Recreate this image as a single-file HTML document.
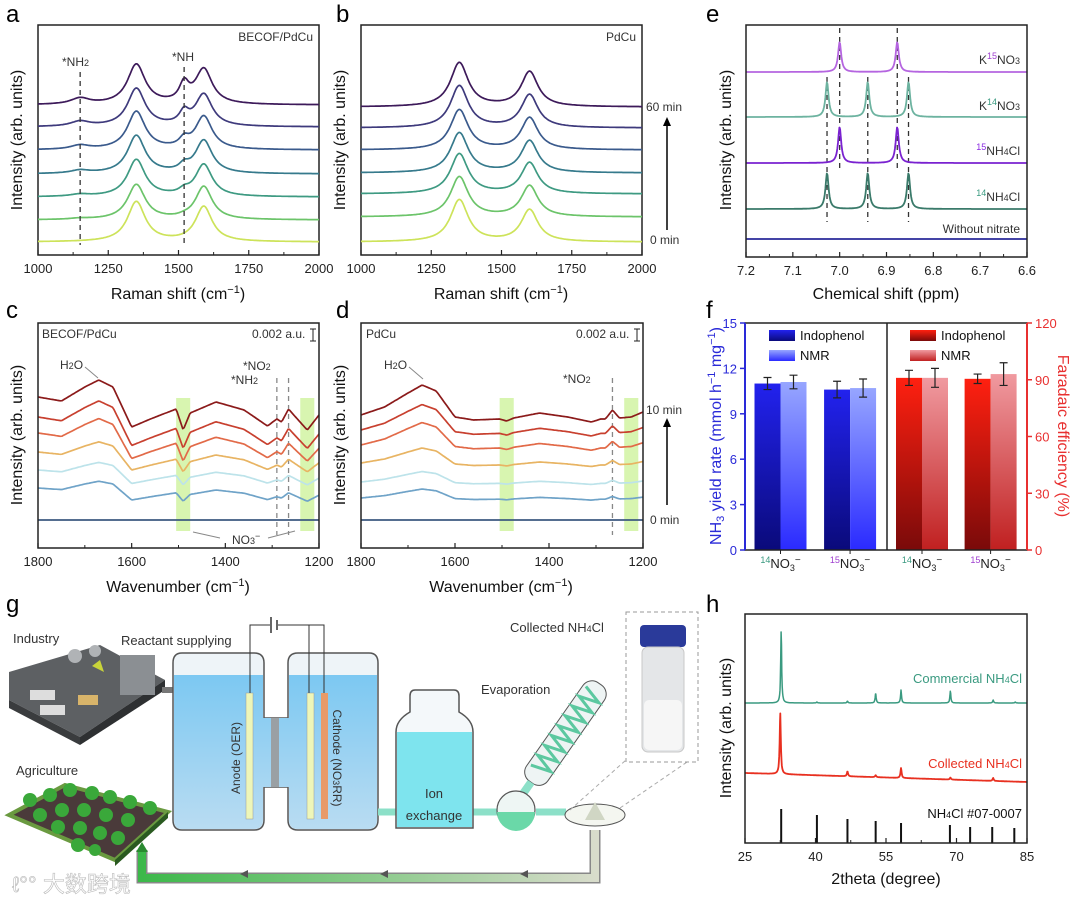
<!DOCTYPE html>
<html><head><meta charset="utf-8"><style>
body{margin:0;background:#fff}
svg{display:block;font-family:"Liberation Sans","Noto Sans CJK SC",sans-serif}
.tk{font-size:13px;fill:#222}
.at{font-size:16px;fill:#111}
.pl{font-size:24px;fill:#000}
.an{font-size:12px;fill:#333}
</style></head><body>
<svg id="fig" width="1080" height="898" viewBox="0 0 1080 898">
<defs>
<linearGradient id="gBlue" x1="0" y1="1" x2="0" y2="0"><stop offset="0" stop-color="#0a0a7a"/><stop offset="1" stop-color="#2222ee"/></linearGradient>
<linearGradient id="gBlueL" x1="0" y1="1" x2="0" y2="0"><stop offset="0" stop-color="#2a2aff"/><stop offset="1" stop-color="#97a6ff"/></linearGradient>
<linearGradient id="gRed" x1="0" y1="1" x2="0" y2="0"><stop offset="0" stop-color="#7a0a0a"/><stop offset="1" stop-color="#ff2010"/></linearGradient>
<linearGradient id="gRedL" x1="0" y1="1" x2="0" y2="0"><stop offset="0" stop-color="#c02020"/><stop offset="1" stop-color="#f09aa0"/></linearGradient>
<linearGradient id="gPipe" x1="0" y1="0" x2="1" y2="0"><stop offset="0" stop-color="#3cb84a"/><stop offset="1" stop-color="#d8dccb"/></linearGradient>
<linearGradient id="gWater" x1="0" y1="0" x2="0" y2="1"><stop offset="0" stop-color="#7cc8f2"/><stop offset="1" stop-color="#b9dcf2"/></linearGradient>
</defs>
<text class="pl" x="6" y="22">a</text>
<text class="pl" x="336" y="22">b</text>
<text class="pl" x="706" y="22">e</text>
<text class="pl" x="6" y="318">c</text>
<text class="pl" x="336" y="318">d</text>
<text class="pl" x="706" y="318">f</text>
<text class="pl" x="6" y="612">g</text>
<text class="pl" x="706" y="612">h</text>

<text class="at" x="178" y="299" text-anchor="middle">Raman shift (cm<tspan dy="-6" font-size="11">−1</tspan><tspan dy="6">)</tspan></text>
<text class="at" x="501" y="299" text-anchor="middle">Raman shift (cm<tspan dy="-6" font-size="11">−1</tspan><tspan dy="6">)</tspan></text>
<text class="at" x="886" y="299" text-anchor="middle">Chemical shift (ppm)</text>
<text class="at" x="178" y="592" text-anchor="middle">Wavenumber (cm<tspan dy="-6" font-size="11">−1</tspan><tspan dy="6">)</tspan></text>
<text class="at" x="501" y="592" text-anchor="middle">Wavenumber (cm<tspan dy="-6" font-size="11">−1</tspan><tspan dy="6">)</tspan></text>
<text class="at" x="886" y="884" text-anchor="middle">2theta (degree)</text>
<text class="at" transform="translate(22,140) rotate(-90)" text-anchor="middle">Intensity (arb. units)</text>
<text class="at" transform="translate(345,140) rotate(-90)" text-anchor="middle">Intensity (arb. units)</text>
<text class="at" transform="translate(731,140) rotate(-90)" text-anchor="middle">Intensity (arb. units)</text>
<text class="at" transform="translate(22,435) rotate(-90)" text-anchor="middle">Intensity (arb. units)</text>
<text class="at" transform="translate(345,435) rotate(-90)" text-anchor="middle">Intensity (arb. units)</text>
<text class="at" transform="translate(731,728) rotate(-90)" text-anchor="middle">Intensity (arb. units)</text>
<text class="at" transform="translate(721,436) rotate(-90)" text-anchor="middle" style="fill:#2a2ad8">NH<tspan font-size="11" dy="3">3</tspan><tspan dy="-3"> yield rate (mmol h</tspan><tspan font-size="11" dy="-6">−1</tspan><tspan dy="6"> mg</tspan><tspan font-size="11" dy="-6">−1</tspan><tspan dy="6">)</tspan></text>
<text class="at" transform="translate(1058,436) rotate(90)" text-anchor="middle" style="fill:#e83030">Faradaic efficiency (%)</text>

<text class="an" x="313" y="41" text-anchor="end">BECOF/PdCu</text>
<text class="an" x="62" y="66">*NH<tspan font-size="9">2</tspan></text>
<text class="an" x="172" y="61">*NH</text>
<text class="an" x="636" y="41" text-anchor="end">PdCu</text>
<text class="an" x="646" y="111">60 min</text>
<text class="an" x="650" y="244">0 min</text>
<line x1="667" y1="230" x2="667" y2="124" stroke="#000" stroke-width="1.5"/>
<polygon points="663,126 671,126 667,117" fill="#000"/>
<text class="an" x="42" y="338">BECOF/PdCu</text>
<text class="an" x="252" y="338">0.002 a.u.</text>
<path d="M310,329 h6 M313,329 v12 M310,341 h6" stroke="#222" fill="none"/>
<text class="an" x="60" y="369">H<tspan font-size="9">2</tspan>O</text>
<line x1="85" y1="367" x2="98" y2="378" stroke="#888"/>
<text class="an" x="243" y="370">*NO<tspan font-size="9">2</tspan></text>
<text class="an" x="231" y="384">*NH<tspan font-size="9">2</tspan></text>
<text class="an" x="232" y="544">NO<tspan font-size="9">3</tspan><tspan dy="-5" font-size="9">−</tspan></text>
<path d="M220,538 L193,532 M268,538 L295,531" stroke="#888" fill="none"/>
<text class="an" x="366" y="338">PdCu</text>
<text class="an" x="576" y="338">0.002 a.u.</text>
<path d="M634,329 h6 M637,329 v12 M634,341 h6" stroke="#222" fill="none"/>
<text class="an" x="384" y="369">H<tspan font-size="9">2</tspan>O</text>
<line x1="409" y1="367" x2="423" y2="379" stroke="#888"/>
<text class="an" x="563" y="383">*NO<tspan font-size="9">2</tspan></text>
<text class="an" x="646" y="414">10 min</text>
<text class="an" x="650" y="524">0 min</text>
<line x1="667" y1="505" x2="667" y2="425" stroke="#000" stroke-width="1.5"/>
<polygon points="663,427 671,427 667,418" fill="#000"/>
<text class="an" x="1020" y="64" text-anchor="end">K<tspan font-size="9" dy="-5" style="fill:#a040d0">15</tspan><tspan dy="5">NO</tspan><tspan font-size="9">3</tspan></text>
<text class="an" x="1020" y="110" text-anchor="end">K<tspan font-size="9" dy="-5" style="fill:#3a9a80">14</tspan><tspan dy="5">NO</tspan><tspan font-size="9">3</tspan></text>
<text class="an" x="1020" y="155" text-anchor="end"><tspan font-size="9" dy="-5" style="fill:#8a2be2">15</tspan><tspan dy="5">NH</tspan><tspan font-size="9">4</tspan>Cl</text>
<text class="an" x="1020" y="201" text-anchor="end"><tspan font-size="9" dy="-5" style="fill:#3a9a80">14</tspan><tspan dy="5">NH</tspan><tspan font-size="9">4</tspan>Cl</text>
<text class="an" x="1020" y="233" text-anchor="end">Without nitrate</text>
<text class="an" x="1022" y="683" text-anchor="end" style="fill:#3a9a80;font-size:13px">Commercial NH<tspan font-size="9">4</tspan>Cl</text>
<text class="an" x="1022" y="768" text-anchor="end" style="fill:#e83020;font-size:13px">Collected NH<tspan font-size="9">4</tspan>Cl</text>
<text class="an" x="1022" y="818" text-anchor="end" style="fill:#111;font-size:13px">NH<tspan font-size="9">4</tspan>Cl #07-0007</text>

<g id="panelG">
 <g>
  <polygon points="9,672 100,645 165,680 80,737 9,700" fill="#5d6063"/>
  <polygon points="9,700 80,737 80,745 9,708" fill="#3a3c3e"/>
  <polygon points="80,737 165,680 165,690 80,745" fill="#2e3032"/>
  <rect x="120" y="655" width="35" height="40" fill="#8b8f93"/>
  <rect x="30" y="690" width="25" height="10" fill="#ddd"/><rect x="40" y="705" width="25" height="10" fill="#ddd"/>
  <circle cx="75" cy="656" r="7" fill="#b0b3b6"/><circle cx="95" cy="651" r="6" fill="#b0b3b6"/>
  <rect x="78" y="695" width="20" height="10" fill="#d8b46a"/><polygon points="92,666 100,660 104,672" fill="#c8d33a"/>
 </g>
 <text class="an" x="13" y="643" style="font-size:13px">Industry</text>
 <text class="an" x="121" y="645" style="font-size:13px">Reactant supplying</text>
 <text class="an" x="16" y="775" style="font-size:13px">Agriculture</text>
 <g>
  <polygon points="9,815 65,785 168,812 115,860" fill="#4a3a3a" stroke="#6a9a40" stroke-width="4"/>
  <polygon points="115,860 168,812 168,818 115,866" fill="#2a5a20"/>
  <g fill="#3aa83a">
   <circle cx="30" cy="800" r="7"/><circle cx="50" cy="795" r="7"/><circle cx="70" cy="790" r="7"/><circle cx="92" cy="793" r="7"/><circle cx="110" cy="797" r="7"/><circle cx="130" cy="802" r="7"/><circle cx="150" cy="808" r="7"/>
   <circle cx="40" cy="815" r="7"/><circle cx="62" cy="810" r="7"/><circle cx="84" cy="810" r="7"/><circle cx="106" cy="815" r="7"/><circle cx="128" cy="820" r="7"/>
   <circle cx="58" cy="827" r="7"/><circle cx="80" cy="828" r="7"/><circle cx="100" cy="833" r="7"/><circle cx="118" cy="838" r="7"/>
   <circle cx="78" cy="845" r="7"/><circle cx="95" cy="850" r="6"/>
  </g>
 </g>
 <path d="M595,830 V878 H142 V850" fill="none" stroke="#888" stroke-width="11"/>
 <path d="M595,830 V878 H142 V850" fill="none" stroke="url(#gPipe)" stroke-width="8"/>
 <polygon points="136,852 148,852 142,842" fill="#2a8a30"/>
 <g fill="#555"><polygon points="240,874 248,870 248,878"/><polygon points="380,874 388,870 388,878"/><polygon points="520,874 528,870 528,878"/></g>
 <path d="M162,690 H175" stroke="#777" stroke-width="6"/>
 <path d="M182,653 H254 Q264,653 264,663 V718 H288 V663 Q288,653 298,653 H369 Q378,653 378,663 V820 Q378,830 368,830 H298 Q288,830 288,820 V787 H264 V820 Q264,830 254,830 H182 Q173,830 173,820 V663 Q173,653 182,653 Z" fill="#eef4f8" stroke="#555" stroke-width="1.5"/>
 <path d="M174,675 H263 V718 H289 V675 H377 V820 Q377,829 368,829 H298 Q289,829 289,820 V787 H263 V820 Q263,829 254,829 H182 Q174,829 174,820 Z" fill="url(#gWater)"/>
 <rect x="271" y="718" width="8" height="69" fill="#9aa0a4"/>
 <rect x="246" y="693" width="7" height="126" fill="#eef6b8" stroke="#999" stroke-width="0.5"/>
 <rect x="307" y="693" width="7" height="126" fill="#eef6b8" stroke="#999" stroke-width="0.5"/>
 <rect x="321" y="693" width="7" height="126" fill="#e89a68"/>
 <path d="M250,693 V625 H270 M278,625 H324 V693 M309,693 V625" fill="none" stroke="#333" stroke-width="1"/>
 <path d="M271,617 V633 M277,620 V630" stroke="#333" stroke-width="1.5"/>
 <text transform="translate(240,758) rotate(-90)" text-anchor="middle" class="an" style="font-size:12px">Anode (OER)</text>
 <text transform="translate(333,758) rotate(90)" text-anchor="middle" class="an" style="font-size:12px">Cathode (NO<tspan font-size="9">3</tspan>RR)</text>
 <path d="M378,812 H396 M473,812 H500 M536,812 H566" stroke="#8ce0c8" stroke-width="7"/>
 <path d="M415,690 H454 Q459,690 459,696 V712 Q473,720 473,732 V828 H396 V732 Q396,720 410,712 V696 Q410,690 415,690 Z" fill="#f4f8fa" stroke="#555" stroke-width="1.5"/>
 <rect x="397" y="732" width="75" height="95" fill="#7ee4ee"/>
 <text class="an" x="434" y="798" text-anchor="middle" style="font-size:13px">Ion</text>
 <text class="an" x="434" y="820" text-anchor="middle" style="font-size:13px">exchange</text>
 <g transform="rotate(35 562 738)">
  <rect x="549" y="672" width="26" height="120" rx="11" fill="#eef4f4" stroke="#555"/>
  <path d="M552,682 l20,6 l-20,6 l20,6 l-20,6 l20,6 l-20,6 l20,6 l-20,6 l20,6 l-20,6 l20,6 l-20,6 l20,6 l-20,6 l20,6 l-20,6" fill="none" stroke="#5cc8a0" stroke-width="3"/>
  <rect x="558" y="792" width="8" height="14" fill="#8ce0c8"/>
 </g>
 <circle cx="516" cy="810" r="19" fill="#eef6f4" stroke="#555" stroke-width="1.2"/>
 <path d="M497,812 A19,19 0 0 0 535,812 Z" fill="#6ad8a8"/>
 <text class="an" x="481" y="694" style="font-size:13px">Evaporation</text>
 <ellipse cx="595" cy="815" rx="30" ry="11" fill="#f4f6f0" stroke="#555"/>
 <polygon points="585,820 595,802 605,820" fill="#d0d6c4"/>
 <text class="an" x="510" y="632" style="font-size:13px">Collected NH<tspan font-size="9">4</tspan>Cl</text>
 <path d="M620,808 L690,760 M570,810 L626,760" stroke="#aaa" stroke-dasharray="4,3" fill="none"/>
 <rect x="626" y="612" width="72" height="150" fill="#fff" stroke="#999" stroke-dasharray="4,3"/>
 <rect x="640" y="625" width="46" height="22" rx="4" fill="#2a3a9a"/>
 <rect x="642" y="647" width="42" height="105" rx="6" fill="#e4e6e8" stroke="#c8c8c8"/>
 <rect x="644" y="700" width="38" height="50" rx="5" fill="#f6f6f6"/>
 <text x="12" y="892" style="font-size:22px;fill:#fff;stroke:#bbb;stroke-width:0.6">ℓ°° 大数跨境</text>
</g>
</svg>
<script>
const ramanATraceOffsets=[150,128,105,81,58,35,13];
const ramanAPeakCenters=[1150,1350,1520,1590];
const ramanAPeakWidths=[40,38,20,36];
const ramanAAmps=[[6,40,18,35],[5,38,12,32],[4,38,8,33],[3,38,6,33],[2,37,4,32],[1,35,1,33],[0,40,0,35]];
const ramanBTraceOffsets=[148,127,105,82,61,38,13];
const ramanBPeakCenters=[1350,1600];
const ramanBPeakWidths=[38,36];
const ramanBAmps=[[44,35],[42,33],[40,32],[40,32],[40,31],[40,31],[42,32]];
const ramanColors=['#3d1a5a','#3e3a7c','#3a5a8c','#367a8c','#3e9a82','#6cc46a','#cde35a'];

const irWavenumbers=[1800,1750,1700,1670,1640,1600,1560,1505,1490,1475,1420,1360,1310,1290,1280,1265,1250,1225,1200];
const irCTemplate=[0,-4,10,17,10,-30,-22,-12,-33,-16,-5,-13,-29,-22,-25,-12,-20,-33,-18];
const irCOffsets=[151,131,115,96,78,60,28];
const irCScales=[1,0.95,0.85,0.6,0.45,0.4,0];
const irDTemplate=[0,8,22,30,24,-2,-5,-4,-6,-3,2,-2,-7,-4,-4,5,-3,-2,3];
const irDOffsets=[133,118,103,85,66,50,28];
const irDScales=[1,0.85,0.75,0.5,0.35,0.3,0];
const irColors=['#8b1a1a','#c8402f','#e26a48','#e8b463','#bde3ea','#6fa3c8','#3d5a80'];

const nmrOffsets=[185,140,94,48,18];
const nmrPeaks=[[7.0,6.877],[7.027,6.94,6.853],[7.0,6.877],[7.027,6.94,6.853],[]];
const nmrHeights=[30,35,36,36,0];
const nmrColors=['#b565e0','#6db3a0','#7a22d0','#3a7a6a','#2a2a9a'];

const fCategories=['14NO3−','15NO3−'];
const yieldIndophenol=[11.0,10.6];
const yieldNMR=[11.1,10.7];
const yieldIndophenolErr=[0.4,0.55];
const yieldNMRErr=[0.45,0.6];
const feIndophenol=[91,90.5];
const feNMR=[91,93];
const feIndophenolErr=[4,2.5];
const feNMRErr=[5,6];
const fLeftTicks=[0,3,6,9,12,15];
const fRightTicks=[0,30,60,90,120];

const xrdCommercialPeaks=[32.7,40.3,46.8,52.8,58.2,68.7,77.8,82.5];
const xrdCommercialHeights=[73,1,2,10,13,12,3,1];
const xrdCollectedPeaks=[32.5,46.8,52.8,58.2,68.7,77.8];
const xrdCollectedHeights=[62,5,2,10,2,3];
const xrdCommercialOffset=140;
const xrdCollectedOffsetStart=70;
const xrdCollectedOffsetEnd=61;
const xrdRefPositions=[32.7,40.3,46.8,52.8,58.2,68.6,72.9,77.6,82.3];
const xrdRefHeights=[34,28,24,22,20,18,16,16,15];

const ramanTicks=[1000,1250,1500,1750,2000];
const irTicks=[1800,1600,1400,1200];
const nmrTicks=[7.2,7.1,7.0,6.9,6.8,6.7,6.6];
const xrdTicks=[25,40,55,70,85];

const NS='http://www.w3.org/2000/svg';
const svg=document.getElementById('fig');
function mk(tag,attrs,parent){const e=document.createElementNS(NS,tag);for(const k in attrs)e.setAttribute(k,attrs[k]);(parent||svg).appendChild(e);return e;}
function lin(d0,d1,r0,r1){return v=>r0+(v-d0)/(d1-d0)*(r1-r0);}
function lor(x,c,w){const t=(x-c)/w;return 1/(1+t*t);}
function interp(xs,ys,x){for(let i=0;i<xs.length-1;i++){const a=xs[i],b=xs[i+1];if((x<=a&&x>=b)||(x>=a&&x<=b)){const t=(x-a)/(b-a);return ys[i]+t*(ys[i+1]-ys[i]);}}return ys[ys.length-1];}
function frame(name,x0,y0,x1,y1,ticks,xs,fmt,minor){
  const r=mk('rect',{x:x0,y:y0,width:x1-x0,height:y1-y0,fill:'none',stroke:'#222','stroke-width':1.5});
  
  
  ticks.forEach(t=>{
    const x=xs(t);
    const l=mk('line',{x1:x,x2:x,y1:y1,y2:y1-5,stroke:'#222','stroke-width':1.2});
    
    
    const tx=mk('text',{x:x,y:y1+18,'text-anchor':'middle',class:'tk'});
    tx.textContent=fmt(t);
    
    
  });
  if(minor){for(let i=0;i<ticks.length-1;i++){const x=(xs(ticks[i])+xs(ticks[i+1]))/2;
    const l=mk('line',{x1:x,x2:x,y1:y1,y2:y1-3,stroke:'#222'});
    
    }}
}
function poly(name,pts,color,w){
  const p=mk('polyline',{points:pts.map(p=>p[0].toFixed(1)+','+p[1].toFixed(1)).join(' '),fill:'none',stroke:color,'stroke-width':w||1.7,'stroke-linejoin':'round'});
  
  
  return p;
}
function dash(name,x,y0,y1,color){
  const l=mk('line',{x1:x,x2:x,y1:y0,y2:y1,stroke:color||'#333','stroke-width':1.3,'stroke-dasharray':'5,4'});
  
  
}

function raman(name,x0,x1,offs,cs,ws,amps){
  const xs=lin(1000,2000,x0,x1), ys=lin(0,230,255,25);
  frame(name,x0,25,x1,255,ramanTicks,xs,String,true);
  offs.forEach((o,i)=>{const pts=[];
    for(let w=1000;w<=2000;w+=4){let v=o;cs.forEach((c,k)=>v+=amps[i][k]*lor(w,c,ws[k]));pts.push([xs(w),ys(v)]);}
    poly(name+'-spectrum-'+i,pts,ramanColors[i]);});
  return xs;
}
const xa=raman('a',38,319,ramanATraceOffsets,ramanAPeakCenters,ramanAPeakWidths,ramanAAmps);
dash('a-nh2-marker',xa(1150),72,245);
dash('a-nh-marker',xa(1520),67,245);
raman('b',361,642,ramanBTraceOffsets,ramanBPeakCenters,ramanBPeakWidths,ramanBAmps);

function ir(name,x0,x1,tmpl,offs,scales,greens,dashes){
  const xs=lin(1800,1200,x0,x1), ys=lin(0,225,548,323);
  greens.forEach(g=>{const r=mk('rect',{x:xs(g[0]),y:398,width:xs(g[1])-xs(g[0]),height:133,fill:'#d8f5b0'});
    
    });
  dashes.forEach(d=>dash(name+'-marker-'+d,xs(d),378,535,'#888'));
  offs.forEach((o,i)=>{const pts=[];
    for(let w=1800;w>=1200;w-=3){pts.push([xs(w),ys(o+scales[i]*interp(irWavenumbers,tmpl,w))]);}
    poly(name+'-spectrum-'+i,pts,irColors[i]);});
  frame(name,x0,323,x1,548,irTicks,xs,String,true);
}
ir('c',38,319,irCTemplate,irCOffsets,irCScales,[[1505,1475],[1240,1210]],[1290,1265]);
ir('d',361,643,irDTemplate,irDOffsets,irDScales,[[1505,1475],[1240,1210]],[1265]);

(function(){
  const xs=lin(7.2,6.6,746,1027), ys=lin(0,232,257,25);
  [7.0,6.877].forEach(p=>dash('e-15n-marker',xs(p),28,170));
  [7.027,6.94,6.853].forEach(p=>dash('e-14n-marker',xs(p),77,222));
  nmrOffsets.forEach((o,i)=>{const pts=[];
    for(let s=7.2;s>=6.6-1e-9;s-=0.0015){let v=o;nmrPeaks[i].forEach(c=>v+=nmrHeights[i]*lor(s,c,0.004));pts.push([xs(s),ys(v)]);}
    poly('e-spectrum-'+i,pts,nmrColors[i],1.8);});
  frame('e',746,25,1027,257,nmrTicks,xs,v=>v.toFixed(1),true);
})();

(function(){
  const x0=745,x1=1027,mid=887,y0=323,y1=550;
  const yl=lin(0,15,y1,y0), yr=lin(0,120,y1,y0), bw=26;
  function bar(name,cx,val,err,ys,fill){
    const r=mk('rect',{x:cx,y:ys(val),width:bw,height:y1-ys(val),fill:fill});
    
    
    const e=mk('path',{d:`M${cx+bw/2},${ys(val+err)} V${ys(val-err)} M${cx+bw/2-4},${ys(val+err)} h8 M${cx+bw/2-4},${ys(val-err)} h8`,stroke:'#222','stroke-width':1.2,fill:'none'});
    
    
  }
  fCategories.forEach((c,i)=>{
    const lc=x0+(mid-x0)*(0.25+0.49*i), rc=mid+(x1-mid)*(0.25+0.49*i);
    bar('yield-indophenol-bar-'+i,lc-bw,yieldIndophenol[i],yieldIndophenolErr[i],yl,'url(#gBlue)');
    bar('yield-nmr-bar-'+i,lc,yieldNMR[i],yieldNMRErr[i],yl,'url(#gBlueL)');
    bar('fe-indophenol-bar-'+i,rc-bw,feIndophenol[i],feIndophenolErr[i],yr,'url(#gRed)');
    bar('fe-nmr-bar-'+i,rc,feNMR[i],feNMRErr[i],yr,'url(#gRedL)');
    [lc,rc].forEach(cx=>{const t=mk('text',{x:cx,y:y1+18,'text-anchor':'middle',class:'tk'});
      
      
      const s=mk('tspan',{'font-size':9,dy:-5,fill:i?'#a040d0':'#3a9a80'},t);s.textContent=c.slice(0,2);
      const n=mk('tspan',{dy:5},t);n.textContent='NO';
      const n3=mk('tspan',{'font-size':9,dy:3},t);n3.textContent='3';
      const m=mk('tspan',{dy:-8,'font-size':10},t);m.textContent='−';
      const tk=mk('line',{x1:cx,x2:cx,y1:y1,y2:y1+4,stroke:'#222'});
      
      });
  });
  const fr=mk('rect',{x:x0,y:y0,width:x1-x0,height:y1-y0,fill:'none',stroke:'#222','stroke-width':1.5});
  
  
  const ml=mk('line',{x1:mid,x2:mid,y1:y0,y2:y1,stroke:'#222','stroke-width':1.5});
  
  
  const la=mk('line',{x1:x0,x2:x0,y1:y0,y2:y1,stroke:'#2a2ad8','stroke-width':2});
  
  
  const ra=mk('line',{x1:x1,x2:x1,y1:y0,y2:y1,stroke:'#e83030','stroke-width':2});
  
  
  fLeftTicks.forEach(t=>{const y=yl(t);
    const l=mk('line',{x1:x0-5,x2:x0,y1:y,y2:y,stroke:'#2a2ad8','stroke-width':1.5});
    
    
    const tx=mk('text',{x:x0-8,y:y+5,'text-anchor':'end',class:'tk',style:'fill:#2a2ad8'});tx.textContent=t;
    
    });
  fRightTicks.forEach(t=>{const y=yr(t);
    const l=mk('line',{x1:x1,x2:x1+5,y1:y,y2:y,stroke:'#e83030','stroke-width':1.5});
    
    
    const tx=mk('text',{x:x1+8,y:y+5,class:'tk',style:'fill:#e83030'});tx.textContent=t;
    
    });
  [[769,'url(#gBlue)','Indophenol',330],[769,'url(#gBlueL)','NMR',350],[910,'url(#gRed)','Indophenol',330],[910,'url(#gRedL)','NMR',350]].forEach(L=>{
    const r=mk('rect',{x:L[0],y:L[3],width:26,height:11,fill:L[1]});
    
    
    const t=mk('text',{x:L[0]+31,y:L[3]+10,style:'font-size:13px;fill:#111'});t.textContent=L[2];
    
    });
})();

(function(){
  const xs=lin(25,85,745,1027), ys=lin(0,229,843,614);
  const p1=[],p2=[];
  for(let a=25;a<=85;a+=0.08){
    let v=xrdCommercialOffset;xrdCommercialPeaks.forEach((c,k)=>v+=xrdCommercialHeights[k]*lor(a,c,0.12));p1.push([xs(a),ys(v)]);
    let u=xrdCollectedOffsetStart+(xrdCollectedOffsetEnd-xrdCollectedOffsetStart)*(a-25)/60;xrdCollectedPeaks.forEach((c,k)=>u+=xrdCollectedHeights[k]*lor(a,c,0.14));p2.push([xs(a),ys(u)]);
  }
  poly('h-commercial-pattern',p1,'#3a9a80',1.5);
  poly('h-collected-pattern',p2,'#e83020',1.8);
  xrdRefPositions.forEach((p,i)=>{const l=mk('line',{x1:xs(p),x2:xs(p),y1:843,y2:843-xrdRefHeights[i],stroke:'#111','stroke-width':2});
    
    });
  frame('h',745,614,1027,843,xrdTicks,xs,String,true);
})();
</script>
</body></html>
